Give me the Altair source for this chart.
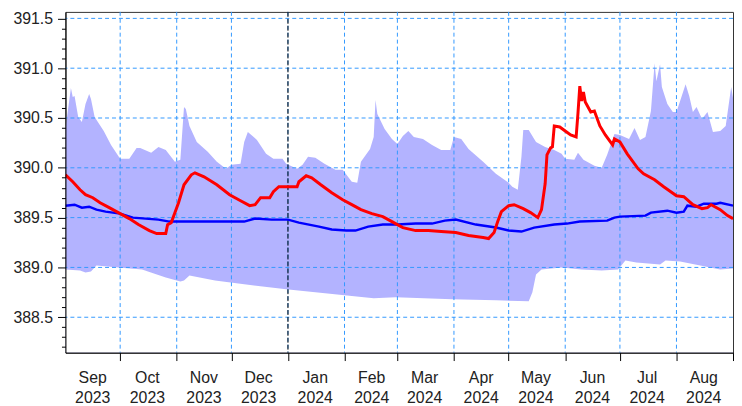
import altair as alt
import pandas as pd

# ---------------- data ----------------
hi_dates = ["2023-09-01","2023-09-04","2023-09-05","2023-09-06","2023-09-08","2023-09-10","2023-09-12",
            "2023-09-14","2023-09-15","2023-09-17","2023-09-22","2023-09-26","2023-10-01","2023-10-06",
            "2023-10-10","2023-10-12","2023-10-18","2023-10-22","2023-10-26","2023-10-31","2023-11-03",
            "2023-11-05","2023-11-06","2023-11-08","2023-11-12","2023-11-18","2023-11-23","2023-11-28",
            "2023-12-01","2023-12-06","2023-12-08","2023-12-10","2023-12-15","2023-12-20","2023-12-24",
            "2023-12-29","2023-12-31","2024-01-06","2024-01-09","2024-01-12","2024-01-16","2024-01-21",
            "2024-01-27","2024-01-31","2024-02-05","2024-02-08","2024-02-10","2024-02-15","2024-02-17",
            "2024-02-18","2024-02-19","2024-02-23","2024-02-27","2024-03-01","2024-03-04","2024-03-07",
            "2024-03-10","2024-03-15","2024-03-20","2024-03-25","2024-03-30","2024-04-01","2024-04-05",
            "2024-04-09","2024-04-17","2024-04-24","2024-05-01","2024-05-03","2024-05-06","2024-05-08",
            "2024-05-09","2024-05-12","2024-05-16","2024-05-21","2024-05-26","2024-05-30","2024-06-01",
            "2024-06-06","2024-06-08","2024-06-11","2024-06-17","2024-06-21","2024-06-24","2024-06-28",
            "2024-07-01","2024-07-06","2024-07-09","2024-07-12","2024-07-15","2024-07-18","2024-07-20",
            "2024-07-21","2024-07-23","2024-07-24","2024-07-27","2024-07-30","2024-08-01","2024-08-03",
            "2024-08-06","2024-08-08","2024-08-10","2024-08-12","2024-08-15","2024-08-18","2024-08-21",
            "2024-08-25","2024-08-28","2024-08-31","2024-09-01"]
hi_vals = [390.39,390.80,390.71,390.72,390.51,390.46,390.64,
           390.74,390.69,390.51,390.37,390.23,390.09,390.09,
           390.20,390.20,390.15,390.21,390.18,390.06,390.08,
           390.61,390.59,390.42,390.26,390.16,390.06,389.99,
           390.03,390.04,390.26,390.36,390.28,390.14,390.09,
           390.09,390.04,389.99,390.03,390.11,390.10,390.04,
           389.98,389.98,389.86,389.85,390.06,390.19,390.31,
           390.68,390.54,390.39,390.29,390.24,390.32,390.37,
           390.31,390.29,390.23,390.18,390.18,390.31,390.29,
           390.19,390.06,389.94,389.85,389.81,389.78,390.11,
           390.38,390.38,390.26,390.21,390.18,390.14,390.09,
           390.08,390.15,390.08,390.02,390.00,390.13,390.34,
           390.33,390.29,390.40,390.28,390.31,390.57,391.05,
           390.87,391.04,390.81,390.64,390.56,390.56,390.67,
           390.84,390.72,390.56,390.61,390.49,390.56,390.36,
           390.37,390.42,390.81,390.70]

lo_dates = ["2023-09-01","2023-09-09","2023-09-12","2023-09-15","2023-09-18","2023-09-30","2023-10-13",
            "2023-10-26","2023-11-03","2023-11-05","2023-11-08","2023-11-22","2023-12-08","2023-12-31",
            "2024-02-01","2024-02-17","2024-02-29","2024-03-31","2024-04-24","2024-05-12","2024-05-14",
            "2024-05-16","2024-05-19","2024-05-30","2024-06-10","2024-06-21","2024-06-30","2024-07-04",
            "2024-07-10","2024-07-23","2024-07-26","2024-08-03","2024-08-14","2024-08-25","2024-09-01"]
lo_vals = [388.98,388.97,388.95,388.96,389.02,389.00,388.98,
           388.90,388.86,388.87,388.92,388.87,388.83,388.78,
           388.72,388.69,388.70,388.68,388.67,388.66,388.75,
           388.93,388.98,389.00,388.98,388.97,388.98,389.07,
           389.05,389.03,389.07,389.06,389.02,388.98,388.99]

med_dates = ["2023-09-01","2023-09-06","2023-09-10","2023-09-14","2023-09-18","2023-09-23","2023-10-01",
             "2023-10-08","2023-10-15","2023-10-22","2023-10-28","2023-12-08","2023-12-14","2023-12-23",
             "2024-01-01","2024-01-07","2024-01-18","2024-01-25","2024-02-02","2024-02-07","2024-02-14",
             "2024-02-22","2024-03-01","2024-03-11","2024-03-20","2024-03-27","2024-04-02","2024-04-13",
             "2024-04-24","2024-05-01","2024-05-08","2024-05-15","2024-05-26","2024-06-02","2024-06-09",
             "2024-06-24","2024-06-28","2024-07-01","2024-07-15","2024-07-18","2024-07-27","2024-08-01",
             "2024-08-05","2024-08-07","2024-08-12","2024-08-16","2024-08-23","2024-08-25","2024-09-01"]
med_vals = [389.62,389.63,389.60,389.61,389.58,389.56,389.54,
            389.50,389.49,389.48,389.46,389.46,389.49,389.48,
            389.48,389.45,389.41,389.38,389.37,389.37,389.41,
            389.43,389.43,389.44,389.44,389.47,389.48,389.43,
            389.40,389.37,389.36,389.40,389.43,389.44,389.46,
            389.47,389.50,389.51,389.52,389.55,389.57,389.55,
            389.56,389.62,389.61,389.64,389.64,389.65,389.62]

cur_dates = ["2023-09-01","2023-09-05","2023-09-09","2023-09-12","2023-09-16","2023-09-20","2023-09-25",
             "2023-10-01","2023-10-06","2023-10-11","2023-10-17","2023-10-21","2023-10-26","2023-10-27",
             "2023-10-29","2023-10-31","2023-11-02","2023-11-05","2023-11-09","2023-11-11","2023-11-16",
             "2023-11-23","2023-11-30","2023-12-06","2023-12-11","2023-12-14","2023-12-17","2023-12-22",
             "2023-12-24","2023-12-27","2024-01-06","2024-01-07","2024-01-11","2024-01-14","2024-01-19",
             "2024-01-25","2024-01-31","2024-02-05","2024-02-10","2024-02-16","2024-02-22","2024-02-27",
             "2024-03-01","2024-03-04","2024-03-11","2024-03-18","2024-03-25","2024-04-02","2024-04-09",
             "2024-04-17","2024-04-20","2024-04-23","2024-04-25","2024-04-27","2024-05-01","2024-05-04",
             "2024-05-09","2024-05-13","2024-05-17","2024-05-19","2024-05-21","2024-05-22","2024-05-24",
             "2024-05-25","2024-05-26","2024-05-29","2024-06-01","2024-06-04","2024-06-07","2024-06-08",
             "2024-06-09","2024-06-10","2024-06-11","2024-06-12","2024-06-15","2024-06-17","2024-06-20",
             "2024-06-23","2024-06-27","2024-06-28","2024-07-01","2024-07-05","2024-07-11","2024-07-14",
             "2024-07-20","2024-07-25","2024-08-01","2024-08-05","2024-08-10","2024-08-15","2024-08-18",
             "2024-08-20","2024-08-25","2024-08-29","2024-09-01"]
cur_vals = [389.93,389.86,389.78,389.73,389.70,389.65,389.60,
            389.54,389.49,389.43,389.37,389.34,389.34,389.43,
            389.45,389.55,389.65,389.83,389.93,389.95,389.91,
            389.83,389.73,389.67,389.62,389.63,389.70,389.70,
            389.76,389.81,389.81,389.86,389.92,389.90,389.83,
            389.75,389.68,389.63,389.58,389.54,389.51,389.46,
            389.43,389.40,389.37,389.37,389.36,389.35,389.32,
            389.30,389.29,389.35,389.46,389.56,389.62,389.63,
            389.59,389.55,389.50,389.58,389.84,390.13,390.20,
            390.21,390.42,390.41,390.37,390.33,390.31,390.55,
            390.82,390.67,390.76,390.66,390.56,390.57,390.42,
            390.33,390.23,390.29,390.26,390.14,389.99,389.94,
            389.88,389.81,389.72,389.71,389.63,389.59,389.60,
            389.63,389.58,389.52,389.49]

month_starts = ["2023-09-01","2023-10-01","2023-11-01","2023-12-01","2024-01-01","2024-02-01","2024-03-01",
                "2024-04-01","2024-05-01","2024-06-01","2024-07-01","2024-08-01","2024-09-01"]
y_major = [388.5, 389.0, 389.5, 390.0, 390.5, 391.0, 391.5]
y_ticks = [388.2, 388.3, 388.4, 388.5, 388.6, 388.7, 388.8, 388.9, 389.0, 389.1, 389.2, 389.3,
           389.4, 389.5, 389.6, 389.7, 389.8, 389.9, 390.0, 390.1, 390.2, 390.3, 390.4, 390.5,
           390.6, 390.7, 390.8, 390.9, 391.0, 391.1, 391.2, 391.3, 391.4, 391.5]
year_marker = ["2024-01-01"]
x_domain = ["2023-09-01", "2024-09-01"]
y_domain = [388.145, 391.565]

# ---------------- chart ----------------
W, H = 674, 344
FONT = "Liberation Sans"
GRID = "#3399ff"


def dt(s):
    y, m, d = (int(p) for p in s.split("-"))
    return alt.DateTime(year=y, month=m, date=d, utc=True)


xscale = alt.Scale(type="utc", domain=[dt(s) for s in x_domain], nice=False)
yscale = alt.Scale(domain=y_domain, nice=False, zero=False)

major_test = "abs(datum.value*2 - round(datum.value*2)) < 0.001"

x_axis = alt.Axis(
    values=[dt(s) for s in month_starts],
    title=None, grid=False, zindex=1,
    domainColor="black", tickColor="black", tickSize=8,
    tickOpacity={"condition": {"test": "utcyear(datum.value)==2023 && utcmonth(datum.value)==8", "value": 0}, "value": 1},
    labelExpr="(utcyear(datum.value)==2024 && utcmonth(datum.value)==8) ? '' : [utcFormat(datum.value, '%b'), utcFormat(datum.value, '%Y')]",
    labelOffset=27, labelPadding=9, labelLineHeight=20,
    labelFont=FONT, labelFontSize=16, labelColor="#222222",
    labelOverlap=False, labelFlush=False,
)
y_axis = alt.Axis(
    values=y_ticks,
    title=None, grid=False, zindex=1,
    domainColor="black", tickColor="black",
    tickSize={"condition": {"test": major_test, "value": 8}, "value": 4},
    labelExpr=f"({major_test}) ? format(datum.value, '.1f') : ''",
    labelPadding=5, labelFont=FONT, labelFontSize=16, labelColor="#222222",
    labelOverlap=False, labelFlush=False,
)


def X():
    return alt.X("date:T", scale=xscale, axis=x_axis, title=None)


def Y():
    return alt.Y("v:Q", scale=yscale, axis=y_axis, title=None)


hi_df = pd.DataFrame({"date": hi_dates, "v": hi_vals})
lo_df = pd.DataFrame({"date": lo_dates, "v": lo_vals})
med_df = pd.DataFrame({"date": med_dates, "v": med_vals})
cur_df = pd.DataFrame({"date": cur_dates, "v": cur_vals})
vgrid_df = pd.DataFrame({"date": month_starts[1:-1]})
hgrid_df = pd.DataFrame({"v": y_major})
jan_df = pd.DataFrame({"date": year_marker})

band_hi = alt.Chart(hi_df).mark_area(color="#b3b3ff", opacity=1, clip=True).encode(
    x=X(), y=Y(), y2=alt.value(H),
)
band_lo = alt.Chart(lo_df).mark_area(color="white", opacity=1, clip=True).encode(
    x=X(), y=Y(), y2=alt.value(H),
)
vgrid = alt.Chart(vgrid_df).mark_rule(color=GRID, strokeDash=[4, 3], strokeWidth=1).encode(x=X())
hgrid = alt.Chart(hgrid_df).mark_rule(color=GRID, strokeDash=[4, 3], strokeWidth=1).encode(y=Y())
jan = alt.Chart(jan_df).mark_rule(color="black", strokeDash=[5, 2], strokeWidth=1).encode(x=X())
med = alt.Chart(med_df).mark_line(color="#0000ff", strokeWidth=2.5, clip=True).encode(x=X(), y=Y())
cur = alt.Chart(cur_df).mark_line(color="#ff0000", strokeWidth=3, clip=True).encode(x=X(), y=Y())

chart = alt.layer(band_hi, band_lo, vgrid, hgrid, jan, med, cur).properties(
    width=W, height=H,
    autosize=alt.AutoSizeParams(type="none"),
    padding={"left": 58, "top": 2, "right": 1, "bottom": 56},
    background="white",
).configure_view(stroke="#333333", strokeWidth=1)

chart.save("out.html", embed_options={"renderer": "svg", "actions": False})
